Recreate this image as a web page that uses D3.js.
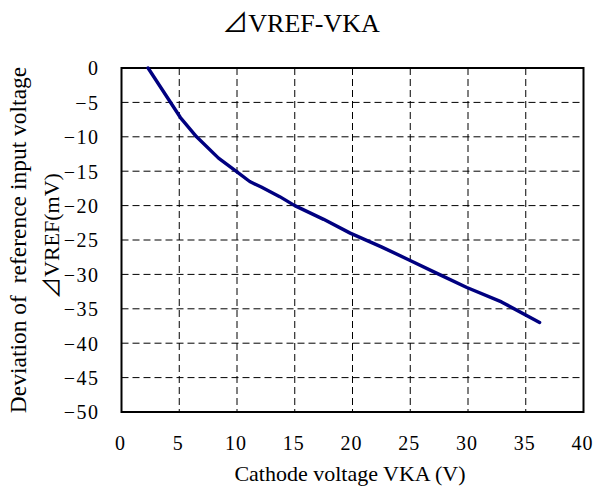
<!DOCTYPE html>
<html>
<head>
<meta charset="utf-8">
<script src="https://cdn.jsdelivr.net/npm/d3@7"></script>
<style>
  html, body { margin: 0; padding: 0; background: #fff; }
  svg { display: block; }
</style>
</head>
<body>
<div id="chart"></div>
<script>
const xVoltage = [2.3, 5.1, 6.5, 8.4, 10.0, 11.1, 12.1, 13.7, 15.0, 17.5, 19.8, 22.5, 24.9, 27.5, 29.9, 32.9, 36.2];
const yDeviation = [0, -7.2, -10.0, -13.1, -15.1, -16.5, -17.3, -18.7, -20.0, -22.0, -24.0, -26.0, -27.9, -30.0, -31.9, -34.0, -37.0];
const xTicks = [0, 5, 10, 15, 20, 25, 30, 35, 40];
const yTicks = [0, -5, -10, -15, -20, -25, -30, -35, -40, -45, -50];
const titleSymbol = "⊿";
const titleText = "VREF-VKA";
const xTitle = "Cathode voltage VKA (V)";
const yTitleLine1 = "Deviation of  reference input voltage";
const yTitleLine2 = "VREF(mV)";

const SERIF = "'Liberation Serif', 'Times New Roman', serif";
const CJK = "'Noto Sans CJK JP', 'Noto Sans CJK SC', sans-serif";

const W = 593, H = 488;
const m = { left: 121.5, right: 593 - 583.5, top: 68, bottom: 488 - 412 };

const svg = d3.select("#chart").append("svg").attr("width", W).attr("height", H)
  .attr("font-family", SERIF);

const x = d3.scaleLinear().domain([0, 40]).range([m.left, W - m.right]);
const y = d3.scaleLinear().domain([-50, 0]).range([H - m.bottom, m.top]);

// grid
const g = svg.append("g");
g.selectAll("line.vg").data(xTicks.filter(d => d > 0 && d < 40)).join("line")
  .attr("x1", d => x(d)).attr("x2", d => x(d))
  .attr("y1", y(0)).attr("y2", y(-50))
  .attr("stroke", "#000").attr("stroke-width", 1).attr("stroke-dasharray", "7,4");
g.selectAll("line.hg").data(yTicks.filter(d => d < 0 && d > -50)).join("line")
  .attr("x1", x(0)).attr("x2", x(40))
  .attr("y1", d => y(d)).attr("y2", d => y(d))
  .attr("stroke", "#000").attr("stroke-width", 1).attr("stroke-dasharray", "7,4");

// axes (labels only)
const xAxis = d3.axisBottom(x).tickValues(xTicks).tickSize(0).tickPadding(0);
const xg = svg.append("g").attr("transform", `translate(0,${y(-50)})`).call(xAxis)
  .attr("font-family", SERIF).attr("font-size", 20);
xg.select(".domain").remove();
xg.selectAll("text").attr("dy", null).attr("y", 38).attr("dx", -1.5).attr("fill", "#000")
  .attr("letter-spacing", 1);

const yAxis = d3.axisLeft(y).tickValues(yTicks).tickSize(0).tickPadding(0);
const yg = svg.append("g").attr("transform", `translate(${x(0) - 22},0)`).call(yAxis)
  .attr("font-family", SERIF).attr("font-size", 20);
yg.select(".domain").remove();
yg.selectAll("text").attr("dy", "0.34em").attr("fill", "#000")
  .attr("letter-spacing", 1.5);

// frame
svg.append("rect").attr("x", x(0)).attr("y", y(0))
  .attr("width", x(40) - x(0)).attr("height", y(-50) - y(0))
  .attr("fill", "none").attr("stroke", "#000").attr("stroke-width", 2);

// line
const pts = xVoltage.map((v, i) => [v, yDeviation[i]]);
svg.append("path").datum(pts)
  .attr("fill", "none").attr("stroke", "#000080").attr("stroke-width", 3.4)
  .attr("stroke-linejoin", "round").attr("stroke-linecap", "round")
  .attr("d", d3.line().x(d => x(d[0])).y(d => y(d[1])));

// title
const tt = svg.append("text").attr("x", 301).attr("y", 32).attr("text-anchor", "middle")
  .attr("font-size", 26);
tt.append("tspan").attr("font-family", CJK).text(titleSymbol);
tt.append("tspan").attr("font-family", SERIF).text(titleText);

// x title
svg.append("text").attr("x", 350).attr("y", 481).attr("text-anchor", "middle")
  .attr("font-size", 22).text(xTitle);

// y title
svg.append("text").attr("transform", "rotate(-90)")
  .attr("text-anchor", "middle").attr("font-size", 23.5).style("white-space", "pre")
  .attr("x", -240).attr("y", 26).text(yTitleLine1);
const yt2 = svg.append("text").attr("transform", "rotate(-90)")
  .attr("text-anchor", "middle").attr("font-size", 22)
  .attr("x", -236).attr("y", 59);
yt2.append("tspan").attr("font-family", CJK).text(titleSymbol);
yt2.append("tspan").attr("font-family", SERIF).text(yTitleLine2);
</script>
</body>
</html>
